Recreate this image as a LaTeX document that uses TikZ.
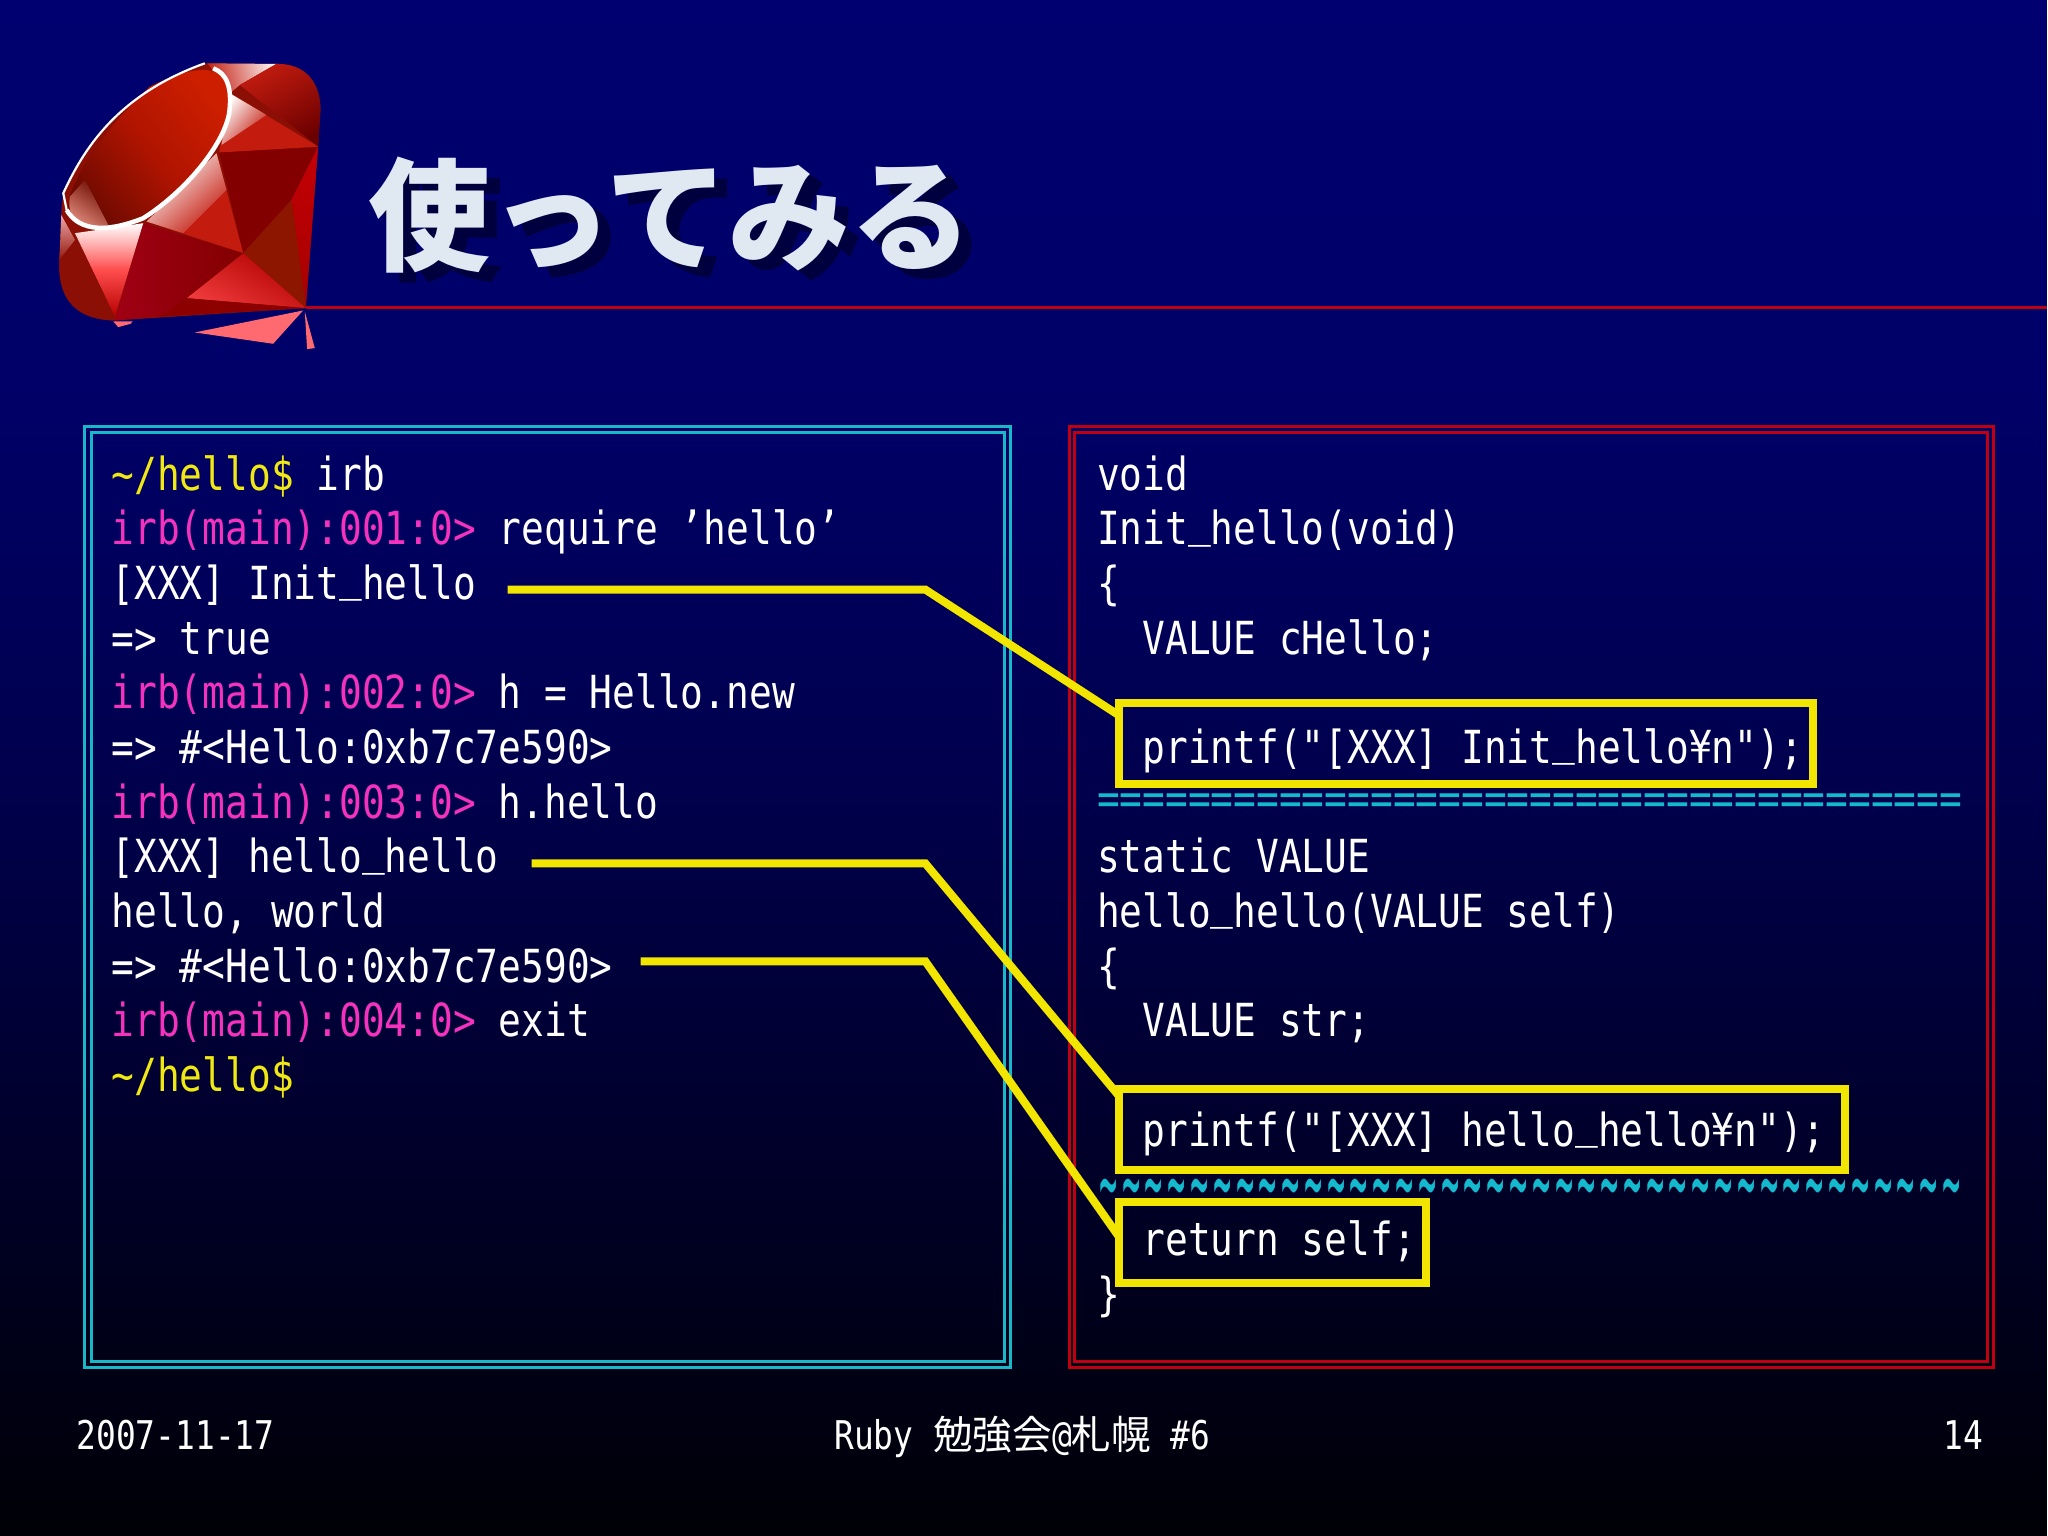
\documentclass[tikz,border=0pt]{standalone}
\usepackage{fontspec}
\usepackage{graphicx}
\usepackage{xcolor}
\usetikzlibrary{calc,positioning}
\newfontfamily\codefont[FakeStretch=0.83]{DejaVu Sans Mono}
\newfontfamily\jpfont{Noto Sans CJK JP}
\definecolor{slidetop}{RGB}{0,0,112}
\definecolor{slideup}{RGB}{0,0,104}
\definecolor{slidemid}{RGB}{0,0,78}
\definecolor{slidelow}{RGB}{0,0,42}
\definecolor{slidebot}{RGB}{0,0,6}
\definecolor{titlecol}{RGB}{224,232,242}
\definecolor{shadowcol}{RGB}{0,0,62}
\definecolor{framecyan}{RGB}{24,184,200}
\definecolor{framered}{RGB}{190,0,16}
\definecolor{markyellow}{RGB}{242,230,0}
\definecolor{promptyellow}{RGB}{240,232,20}
\definecolor{promptpink}{RGB}{245,50,190}
\definecolor{rulecyan}{RGB}{20,185,205}
\definecolor{rubypink}{RGB}{255,105,112}
\definecolor{rubybase}{RGB}{140,15,5}
\definecolor{rubytable}{RGB}{205,30,0}
\definecolor{rubytablemid}{RGB}{175,20,0}
\definecolor{rubytablelow}{RGB}{110,10,0}
\definecolor{rubypale}{RGB}{225,140,125}
\definecolor{rubybright}{RGB}{195,28,15}
\definecolor{rubydark}{RGB}{130,0,0}
\definecolor{rubyside}{RGB}{195,0,5}
\definecolor{rubybrown}{RGB}{140,22,0}
\definecolor{rubyhot}{RGB}{238,58,58}
\definecolor{rubycrimson}{RGB}{160,0,20}
\pgfdeclareverticalshading{slidebg}{100bp}{color(0bp)=(slidebot); color(25bp)=(slidebot);
  color(37.5bp)=(slidelow); color(50bp)=(slidemid); color(62.5bp)=(slideup); color(75bp)=(slidetop); color(100bp)=(slidetop)}
\newcommand{\tld}{\textasciitilde}
\newcommand{\usc}{\raisebox{0.19em}{\_}}
\newcommand{\prm}[1]{\textcolor{promptyellow}{#1}}
\newcommand{\irbp}[1]{\textcolor{promptpink}{irb(main):#1:0>}}
\newcommand{\wavechar}{\makebox[2.28mm]{\smash{\raisebox{-0.34em}{\scalebox{0.8}[2.15]{\tld}}}}}
\begin{document}
\begin{tikzpicture}[x=0.1mm,y=-0.1mm]

    % Setup the styles for the slide
    \tikzset{code style/.style={anchor=north west,
                                inner sep=0pt,
                                align=left,
                                text=white,
                                font=\fontsize{4.56mm}{5.47mm}\codefont},
             foot style/.style={inner sep=0pt,
                                text=white,
                                font=\fontsize{3.96mm}{5mm}\codefont},
             title style/.style={inner sep=0pt,
                                 font=\fontsize{12.2mm}{14mm}\jpfont\bfseries},
             frame style/.style={rectangle,
                                 inner sep=0pt,
                                 outer sep=0pt,
                                 line width=0.3mm},
             mark style/.style={rectangle,
                                draw=markyellow,
                                inner sep=0pt,
                                outer sep=0pt,
                                minimum height=8.1mm,
                                line width=0.8mm},
             link style/.style={draw=markyellow,
                                line width=0.8mm,
                                line join=miter}}

    % Draw the background
    \shade[shading=slidebg] (0,0) rectangle (2048,1536);

    % Draw the ruby
    \begin{scope}[shift={(50,50)},scale=0.3333]
        \begin{scope}
            \clip (465,40) -- (690,42) .. controls (770,45) and (812,100) .. (812,180) -- (805,290) -- (768,775)
                -- (195,812) .. controls (90,810) and (25,760) .. (28,640) -- (35,470) -- (40,430)
                .. controls (100,300) and (200,135) .. (465,40) -- cycle;
            \fill[rubybase] (0,0) rectangle (870,900);
            \shade[top color=white,bottom color=rubybright,shading angle=-75] (465,30) -- (700,30) -- (570,105) -- (540,130) -- cycle;
            \shade[top color=rubybright,bottom color=red!42!black,shading angle=30] (570,105) -- (700,30) -- (830,60) -- (830,290) -- (805,290) -- cycle;
            \fill[rubybright] (540,130) -- (805,290) -- (508,308) -- cycle;
            \shade[top color=white,bottom color=rubybright,shading angle=50] (540,130) -- (650,195) -- (515,285) -- cycle;
            \fill[rubydark] (508,308) -- (805,292) -- (725,450) -- (580,610) -- cycle;
            \fill[rubybright] (290,515) -- (500,310) -- (580,610) -- cycle;
            \shade[top color=white,bottom color=rubybright,shading angle=42] (500,310) -- (530,420) -- (400,550) -- (290,515) -- cycle;
            \shade[top color=rubyside,bottom color=red!65!black] (805,292) -- (768,775) -- (725,450) -- cycle;
            \fill[rubybrown] (725,450) -- (768,775) -- (580,610) -- cycle;
            \shade[top color=red!70!black,bottom color=rubyhot,shading angle=-30] (580,610) -- (768,775) -- (410,745) -- cycle;
            \fill[red!55!black] (410,745) -- (768,775) -- (330,800) -- cycle;
            \shade[top color=rubydark,bottom color=rubycrimson,shading angle=-90] (280,520) -- (580,610) -- (410,745) -- (330,800) -- (195,812) -- cycle;
            \shade[top color=white,bottom color=red!72!black,middle color=red!70!white] (75,550) -- (280,520) -- (195,800) -- cycle;
            \fill[rubybase] (75,570) -- (195,812) -- (100,830) -- (0,800) -- (0,640) -- cycle;
            \shade[top color=red!25!white,bottom color=rubybase] (20,470) -- (75,570) -- (20,640) -- cycle;
        \end{scope}
        \shade[top color=rubytable,bottom color=rubytablelow,middle color=rubytablemid,shading angle=-50] (465,60) .. controls (510,60) and (545,100) .. (535,190)
            .. controls (520,290) and (400,430) .. (280,500) .. controls (180,545) and (90,545) .. (55,480)
            .. controls (50,420) and (130,270) .. (300,110) .. controls (370,75) and (430,58) .. cycle;
        \shade[top color=rubytablelow,bottom color=rubypale,shading angle=-35] (105,390) -- (175,525) .. controls (135,535) and (95,535) .. (75,510) .. controls (60,490) and (55,470) .. (60,440) -- cycle;
        \draw[white,line width=0.45mm] (490,55) .. controls (530,70) and (548,110) .. (538,190)
            .. controls (520,290) and (400,430) .. (280,505) .. controls (180,545) and (90,550) .. (50,480);
        \draw[white,line width=0.22mm] (50,480) -- (40,430) .. controls (100,300) and (200,135) .. (465,40);
        \fill[rubypink] (190,815) -- (248,815) -- (242,822) -- (205,832) -- cycle;
        \fill[rubypink] (435,848) -- (760,782) -- (670,882) -- cycle;
        \fill[rubypink] (765,785) -- (795,895) -- (772,898) -- cycle;
    \end{scope}

    % Draw the rule and the title
    \coordinate (ruletip) at (306,307.5);
    \coordinate (ruleend) at (2048,307.5);
    \draw[framered,line width=0.25mm] (ruletip) -- (ruleend);
    \node[title style,text=shadowcol] at (684,225) (titleshadow) {使ってみる};
    \node[title style,text=titlecol] at (671,215) (title) {使ってみる};

    % Draw the frames
    \node[frame style,draw=framecyan,minimum width=92.6mm,minimum height=94.1mm] at (548,897.5) (irbouter) {};
    \node[frame style,draw=framecyan,minimum width=91.35mm,minimum height=93mm] at (548.2,897.5) (irbinner) {};
    \node[frame style,draw=framered,minimum width=92.5mm,minimum height=94.1mm] at (1532.5,897.5) (extouter) {};
    \node[frame style,draw=framered,minimum width=91.4mm,minimum height=93mm] at (1532,897.5) (extinner) {};

    % Draw the two listings
    \node[code style] at (111,455) (irblog) {%
        \prm{\tld/hello\$} irb\\
        \irbp{001} require ’hello’\\
        {[}XXX] Init\usc hello\\
        => true\\
        \irbp{002} h = Hello.new\\
        => \#<Hello:0xb7c7e590>\\
        \irbp{003} h.hello\\
        {[}XXX] hello\usc hello\\
        hello, world\\
        => \#<Hello:0xb7c7e590>\\
        \irbp{004} exit\\
        \prm{\tld/hello\$}};
    \node[code style] at (1097,455) (extcode) {%
        void\\
        Init\usc hello(void)\\
        \{\\
        \phantom{xx}VALUE cHello;\\
        \mbox{}\\
        \phantom{xx}printf("[XXX] Init\usc hello¥n");\\
        \textcolor{rulecyan}{\raisebox{0.07em}{======================================}}\\
        static VALUE\\
        hello\usc hello(VALUE self)\\
        \{\\
        \phantom{xx}VALUE str;\\
        \mbox{}\\
        \phantom{xx}printf("[XXX] hello\usc hello¥n");\\
        \textcolor{rulecyan}{\foreach \i in {1,...,38}{\wavechar}}\\
        \phantom{xx}return self;\\
        \}};

    % Draw the marked lines
    \node[mark style,minimum width=69.4mm] at (1467,743.5) (initmark) {};
    \node[mark style,minimum width=72.6mm] at (1483,1130.5) (hellomark) {};
    \node[mark style,minimum width=30.7mm] at (1273.5,1243.5) (returnmark) {};

    % Connect the output to the marked lines
    \coordinate (initout) at (508,590);
    \coordinate (initbend) at (926,590);
    \coordinate (helloout) at (532,864);
    \coordinate (hellobend) at (926,864);
    \coordinate (returnout) at (641,962);
    \coordinate (returnbend) at (926,962);
    \draw[link style] (initout) -- (initbend) -- ($(initmark.north west)+(0,13)$);
    \draw[link style] (helloout) -- (hellobend) -- ($(hellomark.north west)+(0,7)$);
    \draw[link style] (returnout) -- (returnbend) -- ($(returnmark.north west)+(0,35)$);

    % Draw the footer
    \node[foot style,anchor=base west] at (76,1450) (footdate) {2007-11-17};
    \node[foot style,anchor=base] at (1023,1450) (footname) {Ruby {\jpfont 勉強会}@{\jpfont 札幌} \#6};
    \node[foot style,anchor=base east] at (1985,1450) (footpage) {14};
\end{tikzpicture}
\end{document}
